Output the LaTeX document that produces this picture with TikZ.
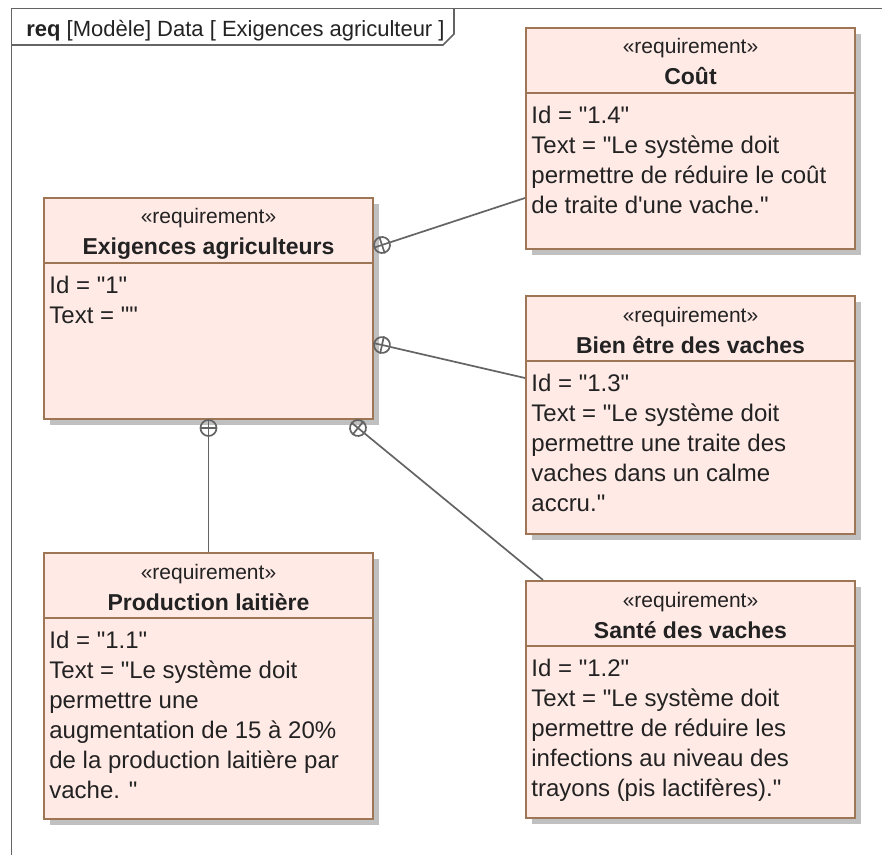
\documentclass[tikz,border=0pt]{standalone}
\usepackage{fontspec}
\setmainfont{Liberation Sans}[Ligatures=TeXOff]
\usetikzlibrary{shadows}

\definecolor{reqfill}{RGB}{255,234,230}
\definecolor{reqline}{RGB}{158,118,86}
\definecolor{linkgray}{RGB}{100,100,100}
\definecolor{shadowgray}{RGB}{192,192,192}
\definecolor{ink}{RGB}{34,34,34}

\begin{document}
\begin{tikzpicture}[x=0.5pt,y=-0.5pt,
  req box/.style={draw=reqline,fill=reqfill,line width=1pt,anchor=north west,inner sep=0pt,
    minimum width=164.5pt,
    drop shadow={shadow xshift=3pt,shadow yshift=-3pt,fill=shadowgray,opacity=1}},
  stereo/.style={anchor=base,inner sep=0pt,text=ink,font=\fontsize{10.5}{12}\selectfont},
  req name/.style={anchor=base,inner sep=0pt,text=ink,font=\fontsize{11.5}{14}\selectfont\bfseries},
  req text/.style={anchor=north west,align=left,inner xsep=3pt,inner ysep=0pt,text=ink,
    font=\fontsize{12}{15}\selectfont},
  divider/.style={draw=reqline,line width=1pt},
  contain/.style={circle,draw=linkgray,line width=0.85pt,minimum size=8pt,inner sep=0pt},
  link/.style={draw=linkgray,line width=0.85pt},
  frame/.style={draw=linkgray,line width=0.85pt}]

\useasboundingbox (0,0) rectangle (882,855);

% cadre du diagramme
\draw[frame] (11.5,855) -- (11.5,8.5) -- (882,8.5);
\draw[frame] (11.5,45) -- (443,45) -- (454,34) -- (454,8.5);
\node[anchor=base west,inner sep=0pt,text=ink,font=\fontsize{11}{13}\selectfont] (titre) at (26,37)
  {\textbf{req} [Modèle] Data [ Exigences agriculteur ]};

% exigences
\node[req box,minimum height=110.5pt] (exig) at (43,197) {};
\node[req box,minimum height=110.5pt] (cout) at (525,27) {};
\node[req box,minimum height=119pt] (bien) at (525,295) {};
\node[req box,minimum height=133pt] (prod) at (43,552) {};
\node[req box,minimum height=118.5pt] (sante) at (525,580) {};

\node[stereo] at ([yshift=-13.5pt]exig.north) {«requirement»};
\node[req name] at ([yshift=-29pt]exig.north) {Exigences agriculteurs};
\draw[divider] ([yshift=-33pt]exig.north west) -- ([yshift=-33pt]exig.north east);
\node[req text] at ([yshift=-39.4pt]exig.north west) {Id = "1"\\Text = ""};

\node[stereo] at ([yshift=-13.5pt]cout.north) {«requirement»};
\node[req name] at ([yshift=-29pt]cout.north) {Coût};
\draw[divider] ([yshift=-33pt]cout.north west) -- ([yshift=-33pt]cout.north east);
\node[req text] at ([yshift=-39.4pt]cout.north west)
  {Id = "1.4"\\Text = "Le système doit\\permettre de réduire le coût\\de traite d'une vache."};

\node[stereo] at ([yshift=-13.5pt]bien.north) {«requirement»};
\node[req name] at ([yshift=-29pt]bien.north) {Bien être des vaches};
\draw[divider] ([yshift=-33pt]bien.north west) -- ([yshift=-33pt]bien.north east);
\node[req text] at ([yshift=-39.4pt]bien.north west)
  {Id = "1.3"\\Text = "Le système doit\\permettre une traite des\\vaches dans un calme\\accru."};

\node[stereo] at ([yshift=-13.5pt]prod.north) {«requirement»};
\node[req name] at ([yshift=-29pt]prod.north) {Production laitière};
\draw[divider] ([yshift=-33pt]prod.north west) -- ([yshift=-33pt]prod.north east);
\node[req text] at ([yshift=-39.4pt]prod.north west)
  {Id = "1.1"\\Text = "Le système doit\\permettre une\\augmentation de 15 à 20\%\\de la production laitière par\\vache. "};

\node[stereo] at ([yshift=-13.5pt]sante.north) {«requirement»};
\node[req name] at ([yshift=-29pt]sante.north) {Santé des vaches};
\draw[divider] ([yshift=-33pt]sante.north west) -- ([yshift=-33pt]sante.north east);
\node[req text] at ([yshift=-39.4pt]sante.north west)
  {Id = "1.2"\\Text = "Le système doit\\permettre de réduire les\\infections au niveau des\\trayons (pis lactifères)."};

% liens de contenance
\node[contain,rotate=18.3] (k1) at ([shift={(4pt,-24pt)}]exig.north east) {};
\node[contain,rotate=-12.4] (k2) at ([shift={(4pt,-74pt)}]exig.north east) {};
\node[contain] (k3) at ([yshift=-4pt]exig.south) {};
\node[contain,rotate=-39.5] (k4) at ([shift={(-8pt,-4pt)}]exig.south east) {};

\draw[link] (k1.north) -- (k1.south) (k1.east) -- (k1.west);
\draw[link] (k2.north) -- (k2.south) (k2.east) -- (k2.west);
\draw[link] (k3.north) -- (k3.south) (k3.east) -- (k3.west);
\draw[link] (k4.north) -- (k4.south) (k4.east) -- (k4.west);

\draw[link] (k1) -- ([yshift=-29.75pt]cout.west);
\draw[link] (k2) -- ([yshift=18.5pt]bien.west);
\draw[link] (k3) -- (prod.north);
\draw[link] (k4) -- ([xshift=9pt]sante.north west);

\end{tikzpicture}
\end{document}
